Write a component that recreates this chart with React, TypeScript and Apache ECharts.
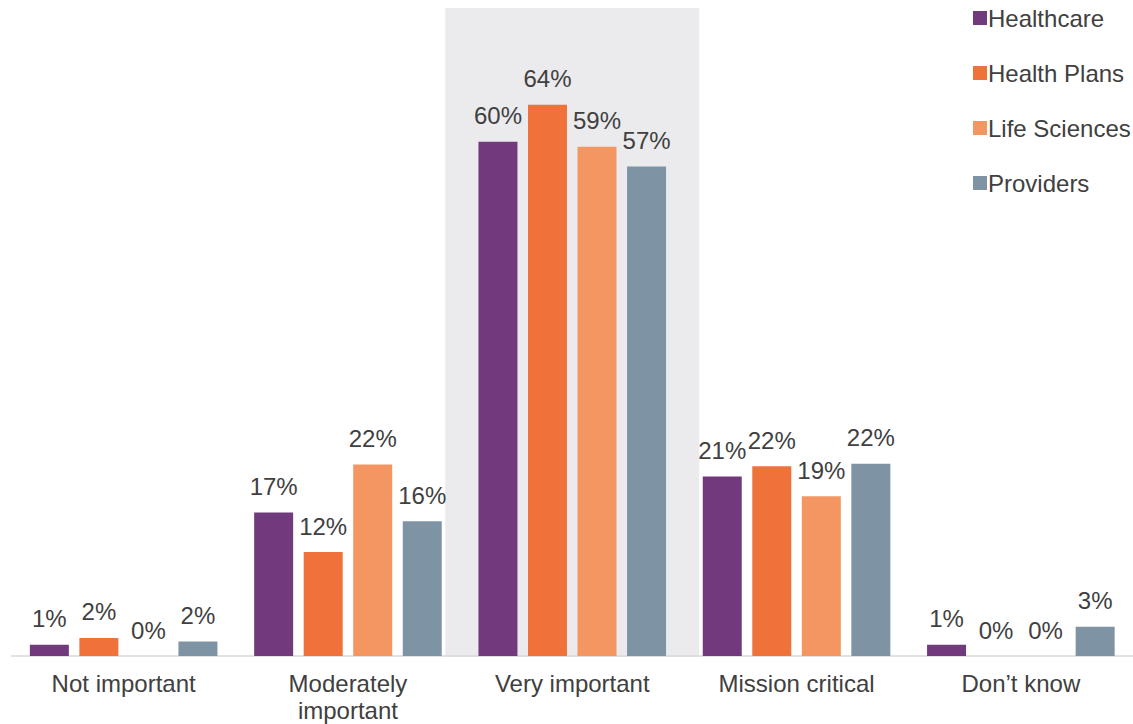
import React, { useEffect, useRef } from "react";
import * as echarts from "echarts";

const categories = ["Not important", "Moderately\nimportant", "Very important", "Mission critical", "Don\u2019t know"];
const seriesNames = ["Healthcare", "Health Plans", "Life Sciences", "Providers"];
const healthcare = [1.3, 16.7, 59.9, 20.9, 1.3];
const healthPlans = [2.1, 12.1, 64.2, 22.1, 0];
const lifeSciences = [0, 22.3, 59.3, 18.6, 0];
const providers = [1.7, 15.7, 57.0, 22.4, 3.4];
const colors = ["#713A7D", "#EF723A", "#F49662", "#7E93A3"];
const highlightCategory = "Very important";

export default function App() {
  const ref = useRef<HTMLDivElement>(null);
  useEffect(() => {
    if (!ref.current) return;
    const chart = echarts.init(ref.current, null, { renderer: "svg" });
    const data = [healthcare, healthPlans, lifeSciences, providers];
    const font = "'Liberation Sans', Arial, sans-serif";
    chart.setOption({
      animation: false,
      textStyle: { fontFamily: font },
      legend: {
        orient: "vertical",
        left: 973,
        top: 6,
        padding: 0,
        icon: "rect",
        itemWidth: 14,
        itemHeight: 14,
        itemGap: 31,
        textStyle: { fontSize: 24, color: "#404040", lineHeight: 24, padding: [0, 0, 0, -4], fontFamily: font },
        data: seriesNames,
      },
      grid: { left: 11.5, right: -3.5, top: 55, bottom: 67, containLabel: false },
      xAxis: {
        type: "category",
        data: categories,
        axisLine: { lineStyle: { color: "#D9D9D9", width: 1.5 } },
        axisTick: { show: false },
        axisLabel: {
          interval: 0,
          fontSize: 24,
          lineHeight: 27,
          color: "#404040",
          margin: 14,
          fontFamily: font,
        },
      },
      yAxis: {
        type: "value",
        min: 0,
        max: 70,
        show: false,
        splitLine: { show: false },
      },
      series: seriesNames.map((name, i) => ({
        name,
        type: "bar",
        data: data[i],
        barWidth: 39,
        barGap: "27%",
        itemStyle: { color: colors[i] },
        label: {
          show: true,
          position: "top",
          distance: 14,
          fontSize: 24,
          color: "#404040",
          fontFamily: font,
          formatter: (p: any) => Math.round(p.value) + "%",
        },
      })),
    });
    const cx = chart.convertToPixel({ xAxisIndex: 0 }, highlightCategory) as number;
    const y0 = chart.convertToPixel({ yAxisIndex: 0 }, 0) as number;
    chart.setOption({
      graphic: [
        {
          type: "rect",
          z: -10,
          silent: true,
          shape: { x: cx - 127, y: 8, width: 254, height: y0 - 8 + 1 },
          style: { fill: "#EBEBEE" },
        },
      ],
    });
    return () => chart.dispose();
  }, []);
  return (
    <div
      ref={ref}
      style={{ position: "fixed", left: 0, top: 0, width: 1133, height: 724, background: "#fff" }}
    />
  );
}
